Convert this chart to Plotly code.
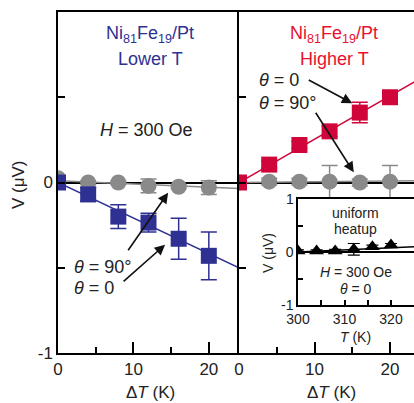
import plotly.graph_objects as go

# ---------------- data ----------------
dT = [0, 4, 8, 12, 16, 20]

lower_theta0 = [0.0, -0.07, -0.2, -0.235, -0.33, -0.43]
lower_theta0_err = [0.01, 0.04, 0.07, 0.055, 0.12, 0.14]
lower_theta90 = [0.025, 0.0, 0.0, -0.02, -0.025, -0.03]
lower_theta90_err = [0.01, 0.01, 0.01, 0.04, 0.01, 0.04]

higher_theta0 = [0.0, 0.105, 0.22, 0.3, 0.41, 0.5]
higher_theta0_err = [0.01, 0.02, 0.02, 0.03, 0.06, 0.02]
higher_theta90 = [0.0, 0.005, 0.005, 0.005, 0.0, 0.005]
higher_theta90_err = [0.01, 0.02, 0.02, 0.095, 0.02, 0.095]

fit_x = [0, 24]
lower_fit0 = [0.0, -0.5]
lower_fit90 = [0.01, -0.035]
higher_fit0 = [0.0, 0.61]
higher_fit90 = [0.0, 0.01]

inset_T = [300, 304, 308, 312, 316, 320]
inset_V = [0.02, 0.02, 0.02, 0.05, 0.1, 0.13]
inset_err = [0.02, 0.02, 0.03, 0.11, 0.03, 0.03]
inset_fit_T = [300, 325]
inset_fit_V = [0.0, 0.1]

# ---------------- styles ----------------
W, H = 414, 403
FONT = "Arial, Liberation Sans, Helvetica, sans-serif"
BLUE = "#2e3192"
RED = "#d0063a"
RED_TXT = "#e8112d"
GRAY = "#8a8a8a"

def px(x):
    return x / W

def py(y):
    return 1 - y / H

fig = go.Figure()

# left panel
fig.add_trace(go.Scatter(x=fit_x, y=lower_fit90, mode="lines",
                         line=dict(color=GRAY, width=1.5), xaxis="x", yaxis="y"))
fig.add_trace(go.Scatter(x=fit_x, y=lower_fit0, mode="lines",
                         line=dict(color=BLUE, width=1.5), xaxis="x", yaxis="y"))
fig.add_trace(go.Scatter(x=dT, y=lower_theta90, mode="markers",
                         marker=dict(symbol="circle", size=16, color=GRAY),
                         error_y=dict(type="data", array=lower_theta90_err, color=GRAY,
                                      thickness=1.5, width=8),
                         xaxis="x", yaxis="y"))
fig.add_trace(go.Scatter(x=dT, y=lower_theta0, mode="markers",
                         marker=dict(symbol="square", size=16, color=BLUE),
                         error_y=dict(type="data", array=lower_theta0_err, color=BLUE,
                                      thickness=1.5, width=8),
                         xaxis="x", yaxis="y"))

# right panel
fig.add_trace(go.Scatter(x=fit_x, y=higher_fit90, mode="lines",
                         line=dict(color=GRAY, width=1.5), xaxis="x2", yaxis="y2"))
fig.add_trace(go.Scatter(x=fit_x, y=higher_fit0, mode="lines",
                         line=dict(color=RED, width=1.5), xaxis="x2", yaxis="y2"))
fig.add_trace(go.Scatter(x=dT, y=higher_theta90, mode="markers",
                         marker=dict(symbol="circle", size=16, color=GRAY),
                         error_y=dict(type="data", array=higher_theta90_err, color=GRAY,
                                      thickness=1.5, width=8),
                         xaxis="x2", yaxis="y2"))
fig.add_trace(go.Scatter(x=dT, y=higher_theta0, mode="markers",
                         marker=dict(symbol="square", size=16, color=RED),
                         error_y=dict(type="data", array=higher_theta0_err, color=RED,
                                      thickness=1.5, width=8),
                         xaxis="x2", yaxis="y2"))

# inset
fig.add_trace(go.Scatter(x=inset_fit_T, y=inset_fit_V, mode="lines",
                         line=dict(color="black", width=1.5), xaxis="x3", yaxis="y3"))
fig.add_trace(go.Scatter(x=inset_T, y=inset_V, mode="markers",
                         marker=dict(symbol="triangle-up", size=13, color="black"),
                         error_y=dict(type="data", array=inset_err, color="black",
                                      thickness=1.2, width=6),
                         xaxis="x3", yaxis="y3"))

axis_common = dict(showline=True, linecolor="black", linewidth=1.5, showgrid=False,
                   ticks="inside", tickcolor="black", tickwidth=1.5, automargin=False,
                   tickfont=dict(family=FONT, size=17, color="#222"))

x_main = dict(axis_common, range=[0, 24], tickvals=[0, 10, 20], ticklen=11,
              minor=dict(dtick=5, ticks="inside", ticklen=6, tickcolor="black", tickwidth=1.5),
              zeroline=False, mirror=True)

fig.update_layout(
    width=W, height=H,
    margin=dict(l=0, r=0, t=0, b=0, autoexpand=False),
    paper_bgcolor="white", plot_bgcolor="white",
    showlegend=False,
    font=dict(family=FONT, color="#222"),
    xaxis=dict(x_main, domain=[px(58), px(239)], anchor="y"),
    yaxis=dict(axis_common, domain=[py(353), py(12)], range=[-1, 1], anchor="x",
               tickvals=[-1, -0.5, 0, 0.5, 1], ticktext=["-1", "", "0", "", ""],
               ticklen=7, zeroline=True, zerolinecolor="black", zerolinewidth=1.5,
               mirror=False),
    xaxis2=dict(x_main, domain=[px(239), 1], range=[0, (W - 239) / 7.55], anchor="y2"),
    yaxis2=dict(axis_common, domain=[py(353), py(12)], range=[-1, 1], anchor="x2",
                tickvals=[-1, -0.5, 0, 0.5, 1], showticklabels=False,
                ticklen=7, zeroline=True, zerolinecolor="black", zerolinewidth=1.5,
                mirror=False),
    xaxis3=dict(axis_common, domain=[px(298), 1], range=[300, 300 + (W - 298) / 4.65],
                anchor="y3", tickvals=[300, 305, 310, 315, 320],
                ticktext=["300", "", "310", "", "320"], ticklen=5,
                tickfont=dict(family=FONT, size=14, color="#222"),
                zeroline=False, mirror=True),
    yaxis3=dict(axis_common, domain=[py(305), py(199)], range=[-1, 1], anchor="x3",
                tickvals=[-1, -0.5, 0, 0.5, 1], ticktext=["-1", "", "0", "", ""],
                ticklen=5, tickfont=dict(family=FONT, size=14, color="#222"),
                zeroline=True, zerolinecolor="black", zerolinewidth=1.5, mirror=False),
)

ann = []

def txt(x, y, text, size=17, color="#222", xanchor="center", angle=0):
    ann.append(dict(x=px(x), y=py(y), xref="paper", yref="paper", text=text,
                    showarrow=False, xanchor=xanchor, yanchor="middle", textangle=angle,
                    font=dict(family=FONT, size=size, color=color)))

def arrow(xref, yref, x, y, ax, ay):
    ann.append(dict(x=x, y=y, xref=xref, yref=yref, ax=ax, ay=ay, text="",
                    showarrow=True, arrowhead=2, arrowsize=1.3, arrowwidth=1.6,
                    arrowcolor="#111"))

# titles
txt(150, 34, "Ni<sub>81</sub>Fe<sub>19</sub>/Pt", 18, BLUE)
txt(150, 59, "Lower T", 18, BLUE)
txt(334, 34, "Ni<sub>81</sub>Fe<sub>19</sub>/Pt", 18, RED_TXT)
txt(334, 59, "Higher T", 18, RED_TXT)
txt(146, 130, "<i>H</i> = 300 Oe", 18)

# axis titles
txt(150, 392, "Δ<i>T</i> (K)", 17)
txt(331, 392, "Δ<i>T</i> (K)", 17)
txt(18, 185, "V (μV)", 17, angle=-90)

# theta labels
txt(72, 267, "<i>θ</i> = 90°", 18, xanchor="left")
txt(72, 288, "<i>θ</i> = 0", 18, xanchor="left")
txt(257, 80, "<i>θ</i> = 0", 18, xanchor="left")
txt(257, 103, "<i>θ</i> = 90°", 18, xanchor="left")

arrow("x", "y", 14.6, -0.06, -41, 59)
arrow("x", "y", 14.2, -0.365, -43, 38)
arrow("x2", "y2", 15.0, 0.465, -45, -24)
arrow("x2", "y2", 15.2, 0.06, -39, -61)

# inset texts
txt(355, 213, "uniform", 14)
txt(355, 229, "heatup", 14)
txt(356, 272, "<i>H</i> = 300 Oe", 14)
txt(356, 289, "<i>θ</i> = 0", 14)
txt(355, 337, "<i>T</i> (K)", 14)
txt(268, 253, "V (μV)", 14, angle=-90)
txt(290, 199, "1", 14)

fig.update_layout(annotations=ann)

fig.write_html("out.html", config={"displayModeBar": False},
               post_script="document.body.style.margin='0';document.body.style.overflow='hidden';")
